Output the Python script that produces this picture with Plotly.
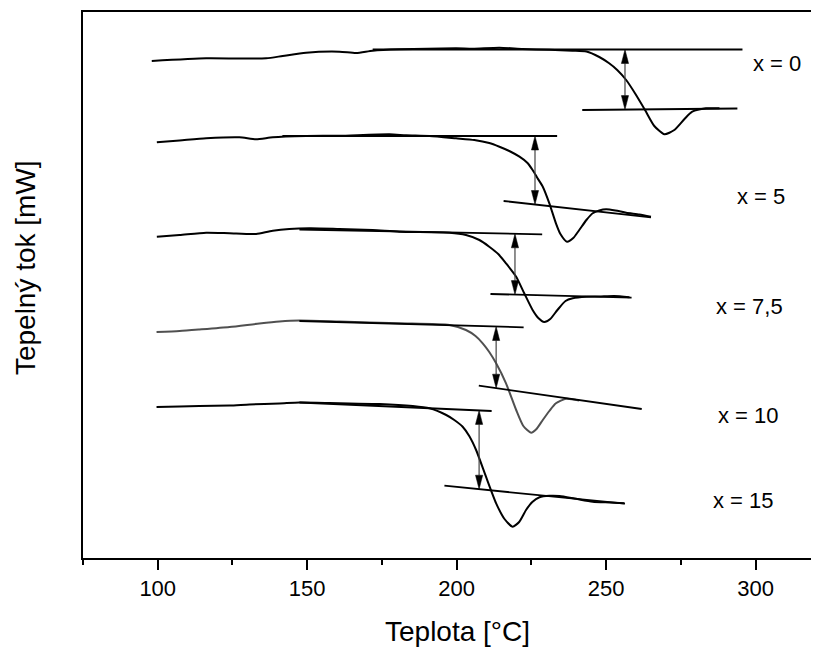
import plotly.graph_objects as go

# ---------------- data (temperature in °C, heat flow in arbitrary offset units) ----------------
series_names = ["x = 0", "x = 5", "x = 7,5", "x = 10", "x = 15"]

temp_x0 = [98.0, 116.2, 127.3, 136.3, 141.8, 149.6, 160.8, 166.4, 171.9, 180.8, 199.8, 205.4,
           214.3, 222.1, 231.0, 238.7, 243.4, 247.7, 251.0, 253.7, 256.7, 259.8, 263.0, 266.1,
           269.5, 272.8, 276.2, 278.8, 283.4, 287.9]
flow_x0 = [497.0, 499.7, 499.5, 499.7, 502.0, 505.3, 506.3, 505.0, 507.3, 508.7, 509.7, 509.3,
           510.3, 509.0, 508.2, 507.3, 506.5, 501.0, 494.7, 488.0, 478.0, 464.0, 448.0, 432.0,
           423.7, 428.0, 439.0, 446.3, 449.7, 449.7]

temp_x5 = [99.7, 107.3, 116.2, 127.3, 132.9, 138.5, 149.6, 160.8, 177.5, 183.1, 190.9, 199.8,
           205.9, 210.9, 214.3, 217.6, 221.0, 223.7, 225.4, 227.0, 228.8, 231.0, 233.2, 234.7,
           236.9, 239.0, 241.0, 243.4, 245.5, 247.7, 250.0, 253.1, 256.7, 261.1, 265.0]
flow_x5 = [415.7, 417.5, 419.7, 420.7, 418.7, 420.7, 422.0, 422.3, 423.7, 422.7, 422.0, 419.7,
           418.0, 415.0, 411.3, 407.0, 401.3, 395.0, 388.0, 380.0, 371.3, 354.7, 334.7, 324.0,
           316.3, 320.0, 328.0, 338.0, 344.7, 347.5, 348.7, 347.5, 345.3, 343.5, 341.3]

temp_x75 = [99.7, 107.3, 116.2, 124.0, 132.9, 138.5, 150.7, 160.8, 171.9, 180.8, 197.6, 203.1,
            207.6, 210.9, 213.9, 216.5, 219.9, 222.6, 225.4, 227.3, 229.3, 231.3, 233.7, 236.4,
            238.8, 243.3, 247.7, 252.7, 257.8]
flow_x75 = [321.3, 323.0, 325.3, 324.7, 324.0, 327.3, 329.7, 329.0, 328.0, 326.3, 325.3, 323.0,
            318.0, 311.3, 304.0, 294.7, 281.3, 264.7, 248.0, 240.0, 236.0, 239.0, 248.0, 257.0,
            259.7, 261.3, 261.5, 262.0, 260.7]

temp_x10 = [99.6, 107.3, 113.9, 124.0, 134.0, 140.7, 147.4, 160.8, 180.8, 197.6, 203.1, 206.3,
            208.7, 210.9, 213.2, 216.5, 219.9, 222.3, 224.9, 226.7, 228.8, 231.0, 233.2, 236.6,
            241.0]
flow_x10 = [226.0, 227.0, 228.5, 231.0, 234.5, 236.5, 237.5, 236.5, 234.7, 233.0, 228.0, 222.0,
            214.7, 206.0, 194.7, 174.7, 148.0, 132.0, 125.3, 129.0, 138.0, 147.0, 154.7, 159.3,
            157.5]

temp_x15 = [99.6, 107.3, 113.9, 124.0, 130.7, 140.7, 147.4, 157.4, 164.1, 174.2, 185.3, 190.9,
            196.5, 199.2, 202.0, 204.2, 206.5, 209.8, 213.2, 216.0, 218.7, 220.9, 223.2, 225.3,
            227.7, 231.0, 234.4, 239.4, 245.5, 251.1, 256.1]
flow_x15 = [151.0, 151.5, 152.0, 152.5, 153.5, 154.5, 155.5, 155.0, 154.5, 154.0, 152.0, 149.7,
            143.0, 138.0, 131.3, 122.0, 108.0, 81.3, 54.7, 39.0, 31.3, 36.0, 48.0, 56.0,
            60.7, 62.2, 62.0, 59.5, 56.3, 55.5, 54.7]

curve_temps = [temp_x0, temp_x5, temp_x75, temp_x10, temp_x15]
curve_flows = [flow_x0, flow_x5, flow_x75, flow_x10, flow_x15]

# tangent (baseline) lines: [start, end]
upper_T = [[171.9, 295.6], [141.7, 233.6], [147.4, 228.6], [147.4, 222.4], [147.4, 211.7]]
upper_Y = [[508.5, 508.5], [422.0, 422.0], [328.5, 323.7], [237.0, 230.7], [155.5, 147.0]]
lower_T = [[242.0, 293.9], [215.7, 265.0], [211.3, 258.5], [207.4, 261.9], [195.9, 256.3]]
lower_Y = [[448.0, 449.5], [357.0, 340.7], [264.0, 260.3], [172.3, 149.0], [72.3, 54.3]]

# double arrows (step height)
arrow_T = [256.3, 226.2, 219.5, 213.2, 207.5]
arrow_top = [508.5, 422.0, 324.2, 231.5, 147.6]
arrow_bot = [448.4, 353.5, 263.4, 169.8, 68.8]

# curve labels
label_T = [307.3, 301.7, 298.1, 297.7, 296.1]
label_Y = [495.0, 362.0, 251.3, 143.0, 58.0]

# ---------------- style ----------------
FONT = "Liberation Sans, Arial, sans-serif"
curve_colors = ["black", "black", "black", "#505050", "black"]
HEAD_LEN = 14.0      # in flow units
HEAD_HALF = 1.2      # in °C

fig = go.Figure()

for i in range(len(series_names)):
    fig.add_trace(go.Scatter(x=curve_temps[i], y=curve_flows[i], mode="lines",
                             line=dict(color=curve_colors[i], width=2, shape="spline", smoothing=0.6),
                             showlegend=False, hoverinfo="skip"))
    fig.add_trace(go.Scatter(x=upper_T[i], y=upper_Y[i], mode="lines",
                             line=dict(color="black", width=1.8), showlegend=False, hoverinfo="skip"))
    fig.add_trace(go.Scatter(x=lower_T[i], y=lower_Y[i], mode="lines",
                             line=dict(color="black", width=1.8), showlegend=False, hoverinfo="skip"))
    # arrow shaft
    fig.add_trace(go.Scatter(x=[arrow_T[i], arrow_T[i]],
                             y=[arrow_top[i] - HEAD_LEN, arrow_bot[i] + HEAD_LEN], mode="lines",
                             line=dict(color="#444444", width=1.2), showlegend=False, hoverinfo="skip"))
    # arrow heads
    t = arrow_T[i]
    for tip, sgn in ((arrow_top[i], -1), (arrow_bot[i], 1)):
        fig.add_trace(go.Scatter(x=[t, t - HEAD_HALF, t + HEAD_HALF, t],
                                 y=[tip, tip + sgn * HEAD_LEN, tip + sgn * HEAD_LEN, tip],
                                 mode="lines", fill="toself", fillcolor="black",
                                 line=dict(color="black", width=0.5),
                                 showlegend=False, hoverinfo="skip"))
    fig.add_annotation(x=label_T[i], y=label_Y[i], text=series_names[i], showarrow=False,
                       xanchor="center", yanchor="middle",
                       font=dict(family=FONT, size=22, color="black"))

fig.add_annotation(x=0.5088, y=-0.1355, xref="paper", yref="paper", text="Teplota [°C]",
                   showarrow=False, xanchor="center", yanchor="middle",
                   font=dict(family=FONT, size=28, color="black"))
fig.add_annotation(x=-0.0788, y=0.531, xref="paper", yref="paper", text="Tepelný tok [mW]",
                   showarrow=False, xanchor="center", yanchor="middle", textangle=-90,
                   font=dict(family=FONT, size=28, color="black"))

# the page body adds an 8 px offset, so the figure is 811x640 to fill the window
fig.update_layout(
    width=811, height=640,
    margin=dict(l=75, r=0, t=4, b=90),
    paper_bgcolor="white", plot_bgcolor="white",
    font=dict(family=FONT, color="black"),
)
fig.update_xaxes(range=[75, 321.2], showline=True, linecolor="black", linewidth=2, mirror=True,
                 ticks="outside", ticklen=10, tickwidth=2, tickcolor="black",
                 tick0=0, dtick=50, showgrid=False, zeroline=False,
                 tickfont=dict(family=FONT, size=22, color="black"),
                 minor=dict(dtick=25, tick0=0, ticks="outside", ticklen=5, tickwidth=2,
                            tickcolor="black", showgrid=False))
fig.update_yaxes(range=[0, 546], showline=True, linecolor="black", linewidth=2, mirror=False,
                 showticklabels=False, ticks="", showgrid=False, zeroline=False)

fig.write_html("out.html")
